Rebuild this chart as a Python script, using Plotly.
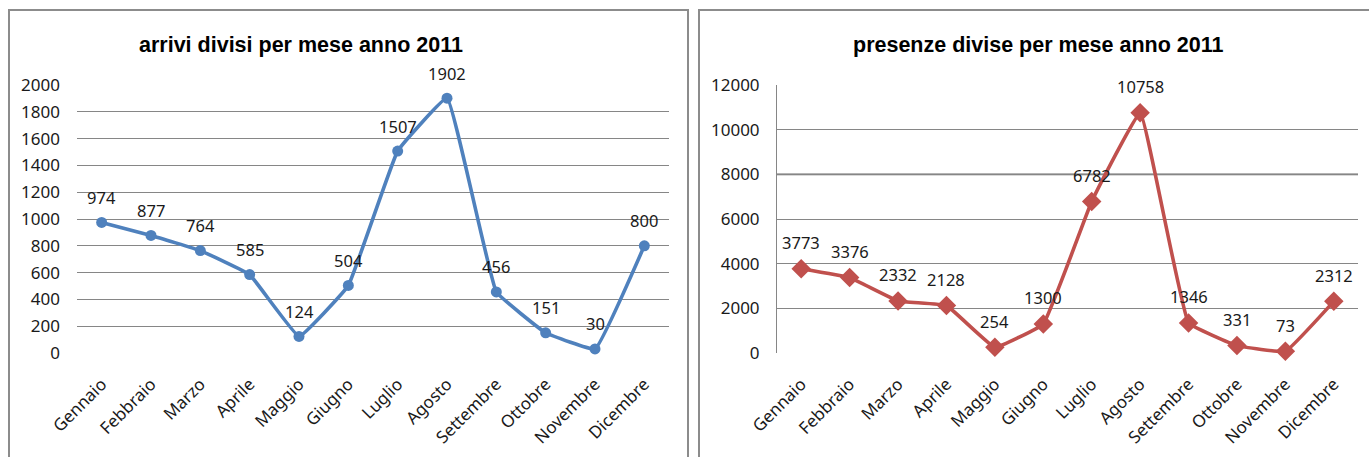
import plotly.graph_objects as go

W, H = 1369, 457

mesi = ["Gennaio", "Febbraio", "Marzo", "Aprile", "Maggio", "Giugno",
        "Luglio", "Agosto", "Settembre", "Ottobre", "Novembre", "Dicembre"]
arrivi = [974, 877, 764, 585, 124, 504, 1507, 1902, 456, 151, 30, 800]
presenze = [3773, 3376, 2332, 2128, 254, 1300, 6782, 10758, 1346, 331, 73, 2312]

titolo_arrivi = "arrivi divisi per mese anno 2011"
titolo_presenze = "presenze divise per mese anno 2011"

BLU = "#4F81BD"
ROSSO = "#C0504D"
GRIGIO = "#868686"
TXT = "#1a1a1a"
FONT = "Noto Sans, Open Sans, sans-serif"
FONT_TITOLO = "Liberation Sans, Arial, sans-serif"


def px(x):
    return x / W


def py(y):
    return 1 - y / H


fig = go.Figure()

fig.add_trace(go.Scatter(
    x=mesi, y=arrivi, mode="lines+markers",
    line=dict(color=BLU, width=3.6, shape="spline", smoothing=0.25),
    marker=dict(symbol="circle", size=11, color=BLU),
    xaxis="x", yaxis="y", showlegend=False, cliponaxis=False,
))
fig.add_trace(go.Scatter(
    x=mesi, y=presenze, mode="lines+markers",
    line=dict(color=ROSSO, width=3.6, shape="spline", smoothing=0.25),
    marker=dict(symbol="diamond", size=15, color=ROSSO),
    xaxis="x2", yaxis="y2", showlegend=False, cliponaxis=False,
))

annotations = []
for m, v in zip(mesi, arrivi):
    annotations.append(dict(x=m, y=v, xref="x", yref="y", text=str(v),
                            showarrow=False, yshift=25,
                            font=dict(family=FONT, size=16.5, color=TXT)))
for m, v in zip(mesi, presenze):
    annotations.append(dict(x=m, y=v, xref="x2", yref="y2", text=str(v),
                            showarrow=False, yshift=26,
                            font=dict(family=FONT, size=16.5, color=TXT)))

annotations.append(dict(x=px(301), y=py(45), xref="paper", yref="paper",
                        xanchor="center", yanchor="middle",
                        text="<b>" + titolo_arrivi + "</b>", showarrow=False,
                        font=dict(family=FONT_TITOLO, size=21.5, color="#000")))
annotations.append(dict(x=px(1038), y=py(45), xref="paper", yref="paper",
                        xanchor="center", yanchor="middle",
                        text="<b>" + titolo_presenze + "</b>", showarrow=False,
                        font=dict(family=FONT_TITOLO, size=21.5, color="#000")))

shapes = [
    # chart frames
    dict(type="rect", xref="paper", yref="paper",
         x0=px(9), x1=px(688), y0=py(470), y1=py(10),
         line=dict(color="#8c8c8c", width=2), layer="below"),
    dict(type="rect", xref="paper", yref="paper",
         x0=px(699), x1=px(1390), y0=py(470), y1=py(10),
         line=dict(color="#8c8c8c", width=2), layer="below"),
    # darker 8000 gridline
    dict(type="line", xref="x2 domain", yref="y2", x0=0, x1=1, y0=8000, y1=8000,
         line=dict(color="#6a6a6a", width=1.8), layer="below"),
]

tickfont = dict(family=FONT, size=17, color=TXT)

fig.update_layout(
    width=W, height=H,
    margin=dict(l=0, r=0, t=0, b=0),
    paper_bgcolor="white", plot_bgcolor="white",
    xaxis=dict(domain=[px(77), px(669)], type="category", tickangle=-45,
               range=[-0.5, 11.5],
               tickfont=tickfont, showgrid=False, showline=False, ticks="",
               zeroline=False, anchor="y", ticklabelstandoff=17, automargin=False),
    yaxis=dict(domain=[py(353), py(85)], range=[0, 2000], dtick=200,
               tickfont=tickfont, showgrid=True, gridcolor=GRIGIO, gridwidth=1,
               zeroline=False, showline=False, ticks="", anchor="x",
               ticklabelstandoff=16, automargin=False),
    xaxis2=dict(domain=[px(777), px(1358)], type="category", tickangle=-45,
                range=[-0.5, 11.5],
                tickfont=tickfont, showgrid=False, showline=False, ticks="",
                zeroline=False, anchor="y2", ticklabelstandoff=17, automargin=False),
    yaxis2=dict(domain=[py(353), py(85)], range=[0, 12000], dtick=2000,
                tickformat="d",
                tickfont=tickfont, showgrid=True, gridcolor=GRIGIO, gridwidth=1,
                zeroline=False, showline=True, linecolor=GRIGIO, linewidth=1,
                ticks="", anchor="x2", ticklabelstandoff=13, automargin=False),
    annotations=annotations,
    shapes=shapes,
)

fig.write_html("out.html")
